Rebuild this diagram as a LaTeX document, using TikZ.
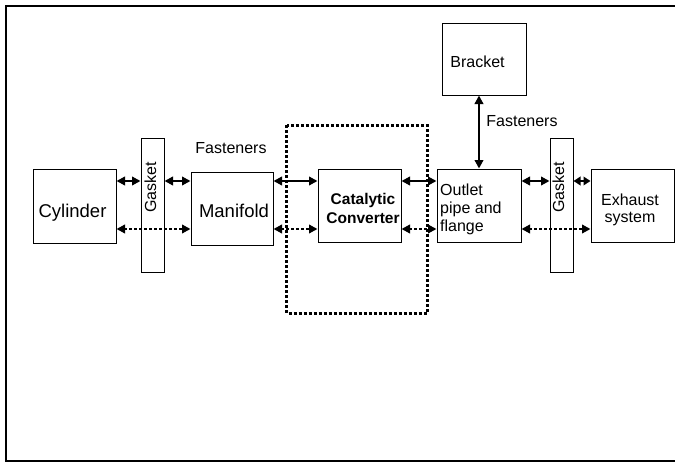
\documentclass[tikz,border=0pt]{standalone}
\usepackage{fontspec}
\setmainfont{Liberation Sans}
\usetikzlibrary{arrows.meta}
\begin{document}
\begin{tikzpicture}[x=1pt,y=-1pt,
  box/.style={draw,line width=1pt,fill=white,inner sep=0pt},
  lbl/.style={font=\fontsize{16}{18}\selectfont,anchor=base,inner sep=0pt},
  biglbl/.style={font=\fontsize{18.5}{20}\selectfont,anchor=base,inner sep=0pt},
  tipA/.tip={Triangle[length=8.5pt,width=8.5pt]},
  tipB/.tip={Triangle[length=7pt,width=8.5pt]},
  solidarr/.style={line width=2.2pt,tipA-tipA},
  shortarr/.style={line width=2.2pt,tipB-tipB},
  dotarr/.style={line width=2.5pt,dash pattern=on 3pt off 2pt,tipA-tipA},
  dotframe/.style={line width=3pt,dash pattern=on 3pt off 2pt}]
\clip (0,0) rectangle (675,463);
% outer frame
\draw[line width=2pt] (6,6) rectangle (690,461);
% dotted boundary
\draw[dotframe] (286.5,125) rectangle (427,313);
% boxes
\node[box,minimum width=83pt,minimum height=74pt] (cyl) at (74.5,206) {};
\node[box,minimum width=23pt,minimum height=134pt] (gL) at (152.5,205) {};
\node[box,minimum width=82pt,minimum height=73pt] (man) at (232,208.5) {};
\node[box,minimum width=83pt,minimum height=73pt] (cat) at (359.5,205.5) {};
\node[box,minimum width=84pt,minimum height=73pt] (out) at (479,205.5) {};
\node[box,minimum width=23pt,minimum height=134pt] (gR) at (561.5,205) {};
\node[box,minimum width=83pt,minimum height=73pt] (exh) at (632.5,205.5) {};
\node[box,minimum width=84pt,minimum height=72pt] (br) at (484,59) {};
% texts
\node[biglbl] (cylT) at (72.5,217.5) {Cylinder};
\node[biglbl] (manT) at (234,217.5) {Manifold};
\node[lbl,rotate=90] (gLT) at (156,187.5) {Gasket};
\node[lbl,rotate=90] (gRT) at (564,187.5) {Gasket};
\node[lbl,font=\fontsize{15.5}{19}\selectfont\bfseries,align=center,anchor=base] (catT) at (363,223) {Catalytic\\Converter};
\node[lbl,align=left,anchor=base west,font=\fontsize{16}{18}\selectfont] (outT) at (440,231) {Outlet\\pipe and\\flange};
\node[lbl,align=center,font=\fontsize{16}{17}\selectfont] (exhT) at (630,222) {Exhaust\\system};
\node[lbl] (brT) at (477.5,67) {Bracket};
\node[lbl] (fasL) at (231,153) {Fasteners};
\node[lbl] (fasR) at (522,126) {Fasteners};
% connectors
\coordinate (ys) at (0,181);
\coordinate (yd) at (0,229);
\draw[solidarr] (cyl.east |- ys) -- (gL.west |- ys);
\draw[solidarr] (gL.east |- ys) -- (man.west |- ys);
\draw[solidarr] (man.east |- ys) -- (cat.west |- ys);
\draw[solidarr] (cat.east |- ys) -- (out.west |- ys);
\draw[solidarr] (out.east |- ys) -- (gR.west |- ys);
\draw[shortarr] (gR.east |- ys) -- (exh.west |- ys);
\draw[dotarr] (cyl.east |- yd) -- (man.west |- yd);
\draw[dotarr] (man.east |- yd) -- (cat.west |- yd);
\draw[dotarr] (cat.east |- yd) -- (out.west |- yd);
\draw[dotarr] (out.east |- yd) -- (exh.west |- yd);
\draw[solidarr] (out.north |- br.south) -- (out.north);
\end{tikzpicture}
\end{document}
